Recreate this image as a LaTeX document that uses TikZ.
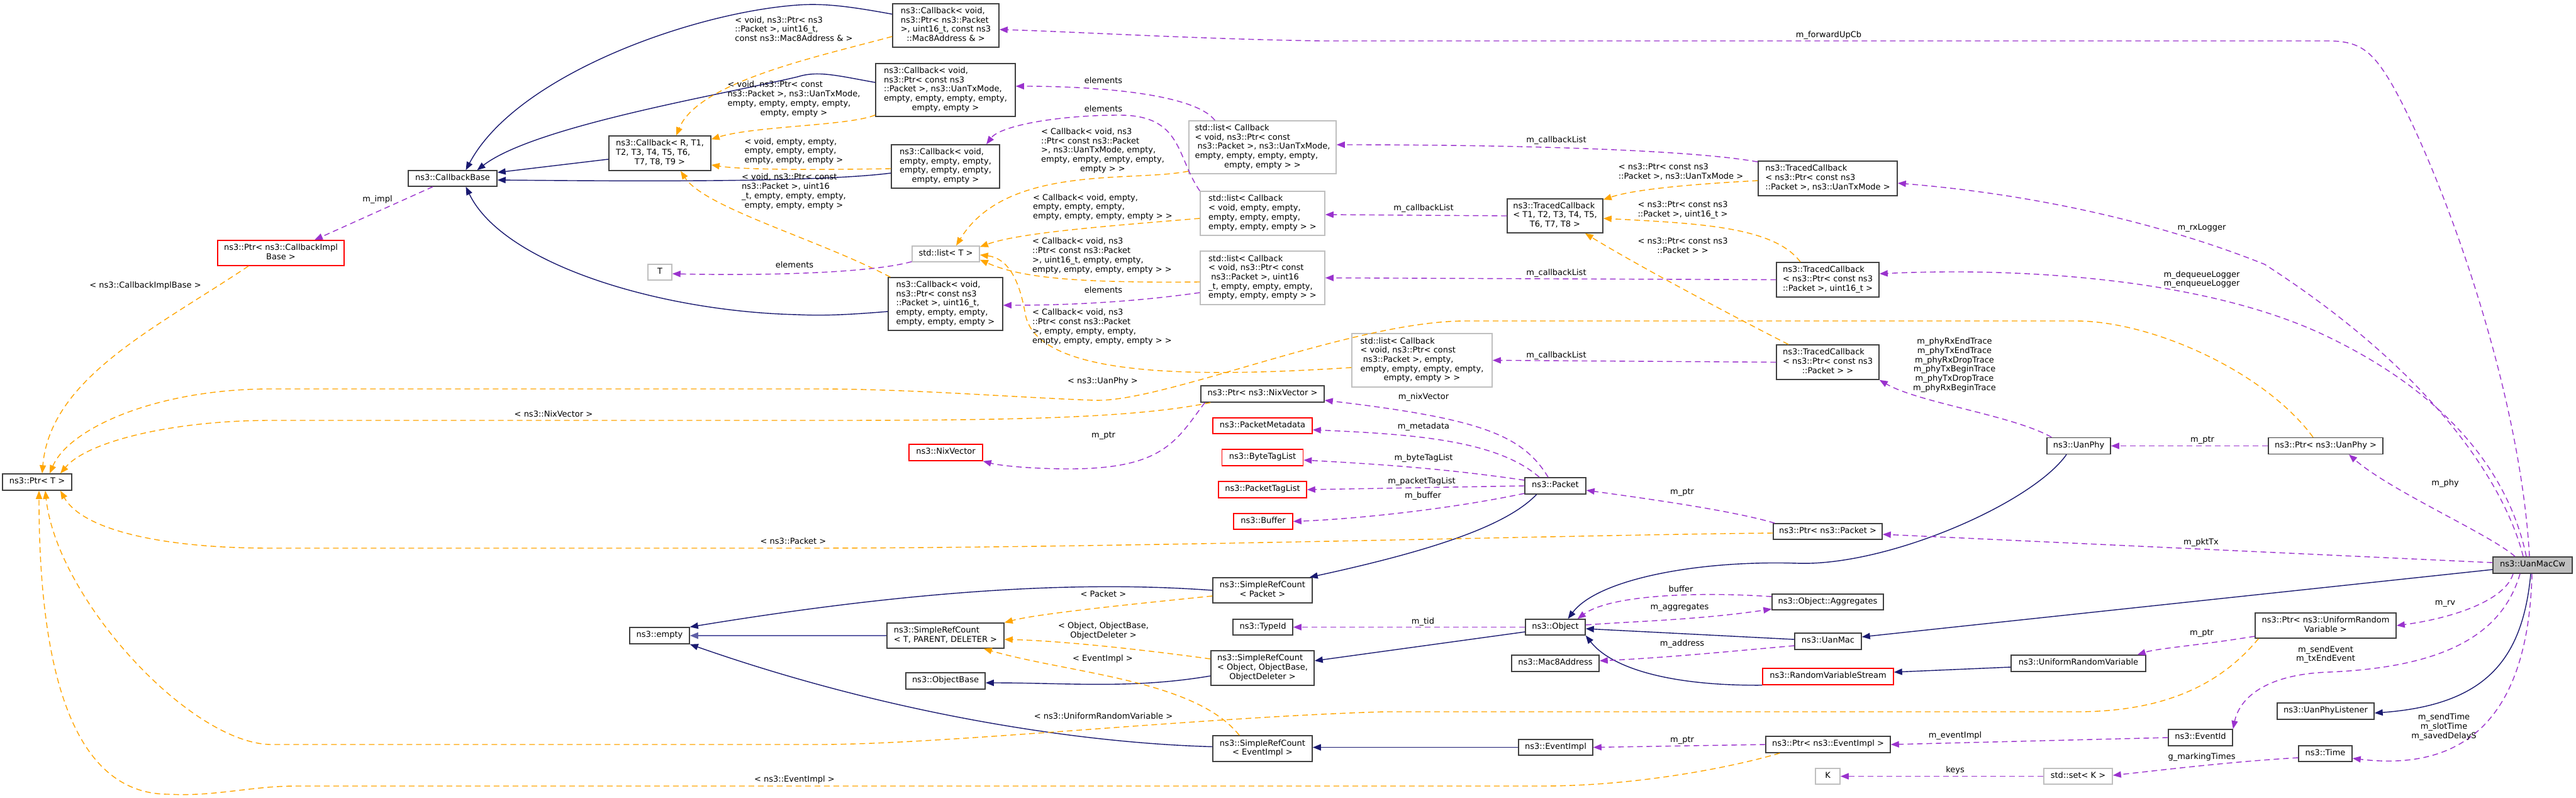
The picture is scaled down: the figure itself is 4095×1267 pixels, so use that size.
\documentclass[tikz,border=0pt]{standalone}
\usepackage{fontspec}
\setmainfont{DejaVu Sans}
\usetikzlibrary{arrows.meta}
\definecolor{navyc}{HTML}{191970}
\definecolor{navyl}{HTML}{5F5FA6}
\definecolor{orangec}{HTML}{FFA500}
\definecolor{purplec}{HTML}{9A32CD}
\definecolor{grayb}{HTML}{BFBFBF}
\definecolor{boxb}{HTML}{404040}
\newcommand\dxfont{\fontsize{13pt}{14.7pt}\selectfont\setbox\strutbox\hbox{\vrule height 10.3pt depth 4.4pt width 0pt}}
\newcommand\dxl[2]{\begin{tabular}{@{}l@{}}#1\\\multicolumn{1}{@{}c@{}}{#2}\end{tabular}}
\tikzset{
  sz/.style 2 args={minimum width=#1pt,minimum height=#2pt},
  box/.style={draw=boxb,line width=1.5pt,fill=white,inner sep=0pt,font=\dxfont,execute at begin node={\strut}},
  gbox/.style={box,draw=grayb},
  rbox/.style={box,draw=red},
  lbl/.style={inner sep=0pt,font=\dxfont,execute at begin node={\strut}},
  clbl/.style={inner sep=0pt,font=\dxfont,align=center},
  inh/.style={draw=navyc,line width=1.4pt,-{Triangle[length=13pt,width=10pt]},fill=none},
  tmpl/.style={draw=orangec,line width=1.4pt,dash pattern=on 9pt off 6pt,-{Triangle[length=13pt,width=10pt]}},
  use/.style={draw=purplec,line width=1.4pt,dash pattern=on 9pt off 6pt,-{Triangle[length=13pt,width=10pt]}},
}
\begin{document}
\begin{tikzpicture}[x=1pt,y=-1pt]
\fill[white] (0,0) rectangle (4095,1267);
\useasboundingbox (0,0) rectangle (4095,1267);

% ---------- nodes ----------
\node[box,sz={169}{69}] (cbmac) at (1503.5,40.5) {\dxl{ns3::Callback< void,\\ns3::Ptr< ns3::Packet\\>, uint16\_t, const ns3}{::Mac8Address \& >}};
\node[box,sz={222}{84}] (cbtx) at (1503,143) {\dxl{ns3::Callback< void,\\ns3::Ptr< const ns3\\::Packet >, ns3::UanTxMode,\\empty, empty, empty, empty,}{empty, empty >}};
\node[box,sz={162}{55}] (cbR) at (1049,243.5) {\dxl{ns3::Callback< R, T1,\\T2, T3, T4, T5, T6,}{T7, T8, T9 >}};
\node[box,sz={141}{25}] (cbbase) at (719.5,283.5) {ns3::CallbackBase};
\node[box,sz={172}{69}] (cbempty) at (1503,264.5) {\dxl{ns3::Callback< void,\\empty, empty, empty,\\empty, empty, empty,}{empty, empty >}};
\node[rbox,sz={201}{40}] (ptrcbimpl) at (446.5,402) {\dxl{ns3::Ptr< ns3::CallbackImpl}{Base >}};
\node[gbox,sz={38}{25}] (Tn) at (1049,432.5) {T};
\node[gbox,sz={234}{84}] (listtx) at (2007,234) {\dxl{std::list< Callback\\< void, ns3::Ptr< const\\\ ns3::Packet >, ns3::UanTxMode,\\empty, empty, empty, empty,}{empty, empty > >}};
\node[gbox,sz={198}{70}] (listempty) at (2007,339) {\dxl{std::list< Callback\\< void, empty, empty,\\empty, empty, empty,}{empty, empty, empty > >}};
\node[gbox,sz={107}{25}] (listT) at (1503.5,403.5) {std::list< T >};
\node[box,sz={152}{54}] (tcT) at (2472,343) {\dxl{ns3::TracedCallback\\< T1, T2, T3, T4, T5,}{T6, T7, T8 >}};
\node[gbox,sz={198}{85}] (list16) at (2007,441.5) {\dxl{std::list< Callback\\< void, ns3::Ptr< const\\\ ns3::Packet >, uint16\\\_t, empty, empty, empty,}{empty, empty, empty > >}};
\node[box,sz={221}{55}] (tctx) at (2905.5,283.5) {\dxl{ns3::TracedCallback\\< ns3::Ptr< const ns3}{::Packet >, ns3::UanTxMode >}};
\node[box,sz={163}{55}] (tc16) at (2905.5,444.5) {\dxl{ns3::TracedCallback\\< ns3::Ptr< const ns3}{::Packet >, uint16\_t >}};
\node[box,sz={163}{55}] (tcpk) at (2905.5,575.5) {\dxl{ns3::TracedCallback\\< ns3::Ptr< const ns3}{::Packet > >}};
\node[box,sz={101}{26}] (uanphy) at (3304.5,708.5) {ns3::UanPhy};
\node[box,sz={182}{26}] (ptruanphy) at (3697,708.5) {ns3::Ptr< ns3::UanPhy >};
\node[box,sz={173}{25}] (ptrpacket) at (2905.5,844.5) {ns3::Ptr< ns3::Packet >};
\node[box,sz={110}{26}] (ptrT) at (59,766) {ns3::Ptr< T >};
\node[box,sz={182}{84}] (cb16) at (1503,483) {\dxl{ns3::Callback< void,\\ns3::Ptr< const ns3\\::Packet >, uint16\_t,\\empty, empty, empty,}{empty, empty, empty >}};
\node[gbox,sz={223}{85}] (listpk) at (2260.5,572.5) {\dxl{std::list< Callback\\< void, ns3::Ptr< const\\\ ns3::Packet >, empty,\\empty, empty, empty, empty,}{empty, empty > >}};
\node[box,sz={196}{26}] (ptrnix) at (2007,626) {ns3::Ptr< ns3::NixVector >};
\node[rbox,sz={158}{25}] (pmeta) at (2007,676.5) {ns3::PacketMetadata};
\node[rbox,sz={117}{26}] (nix) at (1503.5,719) {ns3::NixVector};
\node[rbox,sz={129}{26}] (btl) at (2007,727) {ns3::ByteTagList};
\node[rbox,sz={140}{26}] (ptl) at (2007,778) {ns3::PacketTagList};
\node[rbox,sz={94}{25}] (buffer) at (2008,828.5) {ns3::Buffer};
\node[box,sz={97}{26}] (packet) at (2472.5,772) {ns3::Packet};
\node[box,sz={95}{26}] (empty) at (1048.5,1010) {ns3::empty};
\node[box,sz={158}{40}] (srcpk) at (2007,938) {\dxl{ns3::SimpleRefCount}{< Packet >}};
\node[box,sz={186}{40}] (srcT) at (1503,1010) {\dxl{ns3::SimpleRefCount}{< T, PARENT, DELETER >}};
\node[box,sz={95}{25}] (typeid) at (2007.5,996.5) {ns3::TypeId};
\node[box,sz={95}{25}] (object) at (2472.5,996.5) {ns3::Object};
\node[box,sz={164}{55}] (srcobj) at (2007,1061.5) {\dxl{ns3::SimpleRefCount\\< Object, ObjectBase,}{ObjectDeleter >}};
\node[box,sz={126}{26}] (objbase) at (1503,1082) {ns3::ObjectBase};
\node[box,sz={139}{26}] (mac8) at (2472.5,1054) {ns3::Mac8Address};
\node[box,sz={158}{41}] (srcev) at (2007,1189.5) {\dxl{ns3::SimpleRefCount}{< EventImpl >}};
\node[box,sz={118}{25}] (eventimpl) at (2473,1187.5) {ns3::EventImpl};
\node[box,fill=grayb,sz={126}{26}] (uanmaccw) at (4026,898) {ns3::UanMacCw};
\node[box,sz={177}{25}] (aggr) at (2905.5,956.5) {ns3::Object::Aggregates};
\node[box,sz={106}{26}] (uanmac) at (2906,1019) {ns3::UanMac};
\node[box,sz={224}{40}] (ptrurv) at (3697,994) {\dxl{ns3::Ptr< ns3::UniformRandom}{Variable >}};
\node[box,sz={214}{26}] (urv) at (3304,1054) {ns3::UniformRandomVariable};
\node[rbox,sz={208}{26}] (rvs) at (2906,1075) {ns3::RandomVariableStream};
\node[box,sz={154}{26}] (uanphylistener) at (3697,1130) {ns3::UanPhyListener};
\node[box,sz={102}{26}] (eventid) at (3498,1172) {ns3::EventId};
\node[box,sz={198}{26}] (ptrevent) at (2906,1183) {ns3::Ptr< ns3::EventImpl >};
\node[box,sz={85}{25}] (time) at (3696.5,1197.5) {ns3::Time};
\node[gbox,sz={109}{25}] (setK) at (3303.5,1233.5) {std::set< K >};
\node[gbox,sz={39}{25}] (Kn) at (2905.5,1233.5) {K};

% ---------- inheritance ----------
\draw[inh] ([yshift=18pt]cbmac.west) .. controls (1350,10) and (1310,5) .. (1268,8) .. controls (1100,20) and (820,120) .. ([xshift=21pt]cbbase.north);
\draw[inh] ([yshift=12pt]cbtx.west) .. controls (1330,120) and (1300,112) .. (1268,122) .. controls (1150,150) and (850,200) .. ([xshift=39pt]cbbase.north);
\draw[inh] ([yshift=-9.5pt]cbR.west) -- ([yshift=9.5pt]cbbase.east);
\draw[inh] ([yshift=-10.5pt]cbempty.west) .. controls (1300,290) and (1000,288) .. ([yshift=-2.5pt]cbbase.east);
\draw[inh] ([yshift=-12pt]cb16.west) .. controls (1350,500) and (1310,502) .. (1268,500) .. controls (1050,495) and (800,420) .. ([xshift=21pt]cbbase.south);
\draw[inh] (srcpk.west) .. controls (1750,925) and (1500,930) .. (empty.north east);
\draw[inh,draw=navyl,line width=2pt] (srcT.west) -- (empty.east);
\draw[inh] ([yshift=3pt]srcev.west) .. controls (1700,1180) and (1400,1130) .. (empty.south east);
\draw[inh] ([xshift=-30pt]packet.south) .. controls (2400,830) and (2300,870) .. ([xshift=-5pt]srcpk.north east);
\draw[inh] ([yshift=-12.5pt]srcobj.west) .. controls (1800,1095) and (1700,1085) .. ([yshift=-3pt]objbase.east);
\draw[inh] ([yshift=-7.5pt]object.west) -- ([yshift=11.5pt]srcobj.east);
\draw[inh] (eventimpl.west) -- ([yshift=2pt]srcev.east);
\draw[inh] ([xshift=-19.5pt]uanphy.south) .. controls (3230,800) and (3000,900) .. (2857,895) .. controls (2700,890) and (2540,920) .. ([xshift=20pt]object.north);
\draw[inh] ([yshift=3pt]uanmac.west) -- ([yshift=-2.5pt]object.east);
\draw[inh] (rvs.south west) .. controls (2650,1090) and (2560,1060) .. (object.south east);
\draw[inh] ([yshift=-6pt]urv.west) -- ([yshift=7pt]rvs.east);
\draw[inh] ([yshift=-7pt]uanmaccw.west) -- ([yshift=7pt]uanmac.east);
\draw[inh] ([xshift=-3pt]uanmaccw.south) .. controls (4010,1050) and (3950,1120) .. ([yshift=-3pt]uanphylistener.east);

% ---------- template instances ----------
\draw[tmpl] ([yshift=-17.5pt]cbmac.west) .. controls (1300,90) and (1110,130) .. ([xshift=26pt]cbR.north);
\draw[tmpl] ([yshift=3pt]cbtx.south west) .. controls (1350,200) and (1200,200) .. ([yshift=-6pt]cbR.north east);
\draw[tmpl] ([yshift=-3.5pt]cbempty.west) .. controls (1300,270) and (1180,270) .. ([yshift=-18.5pt]cbR.east);
\draw[tmpl] ([xshift=4pt]cb16.north west) .. controls (1300,380) and (1120,330) .. ([xshift=33pt]cbR.south);
\draw[tmpl] ([yshift=-38pt]listtx.west) .. controls (1800,290) and (1600,260) .. ([xshift=16.5pt]listT.north);
\draw[tmpl] ([yshift=-8pt]listempty.west) .. controls (1750,360) and (1620,370) .. ([yshift=-2pt]listT.north east);
\draw[tmpl] ([yshift=-6.5pt]list16.west) .. controls (1700,450) and (1620,440) .. ([yshift=4pt]listT.south east);
\draw[tmpl] ([yshift=-11.5pt]listpk.west) .. controls (1900,600) and (1650,600) .. (1630,500) .. controls (1620,440) and (1600,410) .. ([yshift=-1.5pt]listT.east);
\draw[tmpl] ([yshift=-3.5pt]tctx.west) .. controls (2700,292) and (2600,300) .. ([yshift=-2pt]tcT.north east);
\draw[tmpl] ([xshift=-43.5pt]tc16.north) .. controls (2820,360) and (2700,355) .. ([yshift=-4pt]tcT.east);
\draw[tmpl] ([xshift=-62.5pt]tcpk.north) .. controls (2750,500) and (2600,420) .. ([xshift=-29pt]tcT.south east);
\draw[tmpl] ([xshift=-51.5pt]ptrcbimpl.south) .. controls (250,520) and (80,600) .. ([xshift=8pt]ptrT.north);
\draw[tmpl] ([xshift=-20pt]ptruanphy.north) .. controls (3600,590) and (3420,510) .. (3300,510) -- (2330,510) .. controls (2150,510) and (1850,640) .. (1740,636) .. controls (1620,632) and (1450,618) .. (1300,618) -- (430,618) .. controls (250,618) and (110,680) .. ([xshift=20pt]ptrT.north);
\draw[tmpl] ([xshift=16pt]ptrnix.south west) .. controls (1800,665) and (1600,668) .. (1300,668) -- (430,668) .. controls (280,668) and (140,700) .. ([xshift=37pt]ptrT.north);
\draw[tmpl] ([yshift=-2.5pt]ptrpacket.west) .. controls (2500,850) and (1800,870) .. (1300,871) -- (430,871) .. controls (250,871) and (130,840) .. ([xshift=37pt]ptrT.south);
\draw[tmpl] ([xshift=6pt]ptrurv.south west) .. controls (3520,1100) and (3420,1131) .. (3300,1131) -- (2200,1131) .. controls (1900,1140) and (1500,1183) .. (1300,1183) -- (430,1183) .. controls (300,1180) and (90,950) .. ([xshift=13pt]ptrT.south);
\draw[tmpl] ([xshift=23pt]ptrevent.south west) .. controls (2750,1220) and (2600,1249) .. (2450,1249) -- (470,1249) .. controls (400,1249) and (340,1266) .. (268,1262) .. controls (130,1262) and (62,1100) .. ([xshift=3pt]ptrT.south);
\draw[tmpl] ([yshift=-9pt]srcpk.west) .. controls (1800,960) and (1650,975) .. (srcT.north east);
\draw[tmpl] ([yshift=14.5pt]srcobj.west) .. controls (1800,1030) and (1680,1018) .. ([yshift=-6pt]srcT.east);
\draw[tmpl] ([xshift=-37pt]srcev.north) .. controls (1900,1080) and (1700,1070) .. ([xshift=-33pt]srcT.south east);

% ---------- usage ----------
\draw[use] ([xshift=-31.5pt]cbbase.south) -- ([xshift=53.5pt]ptrcbimpl.north);
\draw[use] ([xshift=42pt]listtx.north west) .. controls (1900,150) and (1750,137) .. ([yshift=6pt]cbtx.east);
\draw[use] (listempty.north west) .. controls (1870,250) and (1880,183) .. (1780,183) .. controls (1680,183) and (1590,200) .. ([xshift=65pt]cbempty.north);
\draw[use] ([yshift=-23.5pt]list16.west) .. controls (1800,480) and (1700,485) .. ([yshift=-2pt]cb16.east);
\draw[use] ([yshift=1pt]listT.south west) .. controls (1380,435) and (1200,438) .. ([yshift=-2.5pt]Tn.east);
\draw[use] (tcT.west) -- ([yshift=-2pt]listempty.east);
\draw[use] ([yshift=-2pt]tctx.north west) .. controls (2700,240) and (2450,230) .. ([yshift=4pt]listtx.east);
\draw[use] (tc16.west) -- (list16.east);
\draw[use] (tcpk.west) -- (listpk.east);
\draw[use] ([xshift=8pt]uanphy.north west) .. controls (3200,660) and (3050,640) .. (tcpk.south east);
\draw[use] (ptruanphy.west) -- (uanphy.east);
\draw[use] ([xshift=7pt]ptrnix.south west) .. controls (1870,700) and (1850,745) .. (1700,745) .. controls (1640,745) and (1590,740) .. (nix.south east);
\draw[use] ([xshift=-11.5pt]packet.north) .. controls (2420,690) and (2350,665) .. ([yshift=-10pt]ptrnix.east);
\draw[use] ([xshift=-25.5pt]packet.north) .. controls (2380,700) and (2250,690) .. ([yshift=-6.5pt]pmeta.east);
\draw[use] ([yshift=9pt]packet.west) .. controls (2300,745) and (2200,738) .. ([yshift=-4pt]btl.east);
\draw[use] (packet.west) -- (ptl.east);
\draw[use] ([yshift=-12pt]packet.west) .. controls (2300,810) and (2150,825) .. (buffer.east);
\draw[use] ([xshift=3pt]ptrpacket.north west) .. controls (2750,810) and (2600,790) .. ([yshift=-7pt]packet.east);
\draw[use] ([yshift=4pt]uanmaccw.west) -- ([yshift=-4.5pt]ptrpacket.east);
\draw[use] ([xshift=-15pt]uanmaccw.north) .. controls (3985,780) and (3880,600) .. (3600,420) .. controls (3450,360) and (3250,310) .. ([yshift=-7.5pt]tctx.east);
\draw[use] ([xshift=-10pt]uanmaccw.north) .. controls (3990,760) and (3900,630) .. (3696,533) .. controls (3500,440) and (3200,425) .. ([yshift=9.5pt]tc16.east);
\draw[use] ([xshift=-5pt]uanmaccw.north) .. controls (4005,600) and (3870,250) .. (3800,130) .. controls (3770,80) and (3750,65) .. (3700,65) -- (2100,65) .. controls (1900,62) and (1700,50) .. ([yshift=-6.5pt]cbmac.east);
\draw[use] ([xshift=-28pt]uanmaccw.north) .. controls (3960,850) and (3800,780) .. ([xshift=37pt]ptruanphy.south);
\draw[use] (object.west) -- (typeid.east);
\draw[use] ([yshift=8.5pt]aggr.west) .. controls (2700,940) and (2560,945) .. ([xshift=-13pt]object.north east);
\draw[use] ([yshift=3.5pt]object.east) .. controls (2600,987) and (2700,985) .. ([yshift=2pt]aggr.south west);
\draw[use] ([yshift=-7pt]uanmac.west) .. controls (2750,1035) and (2650,1045) .. ([yshift=4pt]mac8.east);
\draw[use] ([xshift=-31pt]uanmaccw.south) .. controls (3980,960) and (3880,985) .. (ptrurv.east);
\draw[use] ([yshift=-17pt]ptrurv.west) .. controls (3500,1025) and (3430,1030) .. ([xshift=-14pt]urv.north east);
\draw[use] ([xshift=-20pt]uanmaccw.south) .. controls (3980,1000) and (3900,1060) .. (3700,1068) .. controls (3600,1072) and (3560,1110) .. (eventid.north east);
\draw[use] (eventid.west) -- (ptrevent.east);
\draw[use] (ptrevent.west) -- (eventimpl.east);
\draw[use] ([xshift=-1pt]uanmaccw.south) .. controls (4020,1100) and (3950,1230) .. ([yshift=-7.5pt]time.east);
\draw[use] ([yshift=-6.5pt]time.west) .. controls (3550,1210) and (3450,1222) .. ([yshift=1.5pt]setK.east);
\draw[use] (setK.west) -- (Kn.east);

% ---------- edge labels ----------
\node[lbl] (l1) at (1262,48) {\dxl{< void, ns3::Ptr< ns3\\::Packet >, uint16\_t,}{const ns3::Mac8Address \& >}};
\node[lbl] (l2) at (1262,158) {\dxl{< void, ns3::Ptr< const\\ns3::Packet >, ns3::UanTxMode,\\empty, empty, empty, empty,}{empty, empty >}};
\node[lbl] (l3) at (1262,241) {\dxl{< void, empty, empty,\\empty, empty, empty,}{empty, empty, empty >}};
\node[lbl] (l4) at (1262,305) {\dxl{< void, ns3::Ptr< const\\ns3::Packet >, uint16\\\_t, empty, empty, empty,}{empty, empty, empty >}};
\node[lbl] (l5) at (1753,240) {\dxl{< Callback< void, ns3\\::Ptr< const ns3::Packet\\>, ns3::UanTxMode, empty,\\empty, empty, empty, empty,}{empty > >}};
\node[lbl] (l6) at (1753,330) {\dxl{< Callback< void, empty,\\empty, empty, empty,}{empty, empty, empty, empty > >}};
\node[lbl] (l7) at (1752,407) {\dxl{< Callback< void, ns3\\::Ptr< const ns3::Packet\\>, uint16\_t, empty, empty,}{empty, empty, empty, empty > >}};
\node[lbl] (l8) at (1752,520) {\dxl{< Callback< void, ns3\\::Ptr< const ns3::Packet\\>, empty, empty, empty,}{empty, empty, empty, empty > >}};
\node[lbl] (l9) at (2672,274) {\dxl{< ns3::Ptr< const ns3}{::Packet >, ns3::UanTxMode >}};
\node[lbl] (l10) at (2675,334) {\dxl{< ns3::Ptr< const ns3}{::Packet >, uint16\_t >}};
\node[lbl] (l11) at (2675,392) {\dxl{< ns3::Ptr< const ns3}{::Packet > >}};
\node[lbl] (l12) at (231,455) {< ns3::CallbackImplBase >};
\node[lbl] (l13) at (1753,607) {< ns3::UanPhy >};
\node[lbl] (l14) at (880,660) {< ns3::NixVector >};
\node[lbl] (l15) at (1261,862) {< ns3::Packet >};
\node[lbl] (l16) at (1754,1140) {< ns3::UniformRandomVariable >};
\node[lbl] (l17) at (1263,1240) {< ns3::EventImpl >};
\node[lbl] (l18) at (1754,946) {< Packet >};
\node[lbl] (l19) at (1754,1003) {\dxl{< Object, ObjectBase,}{ObjectDeleter >}};
\node[lbl] (l20) at (1753,1048) {< EventImpl >};

\node[lbl] (m1) at (600,318) {m\_impl};
\node[lbl] (m2) at (1754,130) {elements};
\node[lbl] (m3) at (1754,175) {elements};
\node[lbl] (m4) at (1754,463) {elements};
\node[lbl] (m5) at (1263,423) {elements};
\node[lbl] (m6) at (2263,332) {m\_callbackList};
\node[lbl] (m7) at (2474,224) {m\_callbackList};
\node[lbl] (m8) at (2474,435) {m\_callbackList};
\node[lbl] (m9) at (2474,566) {m\_callbackList};
\node[clbl] (m10) at (3107,580) {m\_phyRxEndTrace\\m\_phyTxEndTrace\\m\_phyRxDropTrace\\m\_phyTxBeginTrace\\m\_phyTxDropTrace\\m\_phyRxBeginTrace};
\node[lbl] (m11) at (3501,700) {m\_ptr};
\node[lbl] (m12) at (1754,693) {m\_ptr};
\node[lbl] (m13) at (2263,632) {m\_nixVector};
\node[lbl] (m14) at (2263,679) {m\_metadata};
\node[lbl] (m15) at (2263,729) {m\_byteTagList};
\node[lbl] (m16) at (2260,766) {m\_packetTagList};
\node[lbl] (m17) at (2262,789) {m\_buffer};
\node[lbl] (m18) at (2674,783) {m\_ptr};
\node[lbl] (m19) at (3499,863) {m\_pktTx};
\node[lbl] (m20) at (3500,363) {m\_rxLogger};
\node[clbl] (m21) at (3500,444) {m\_dequeueLogger\\m\_enqueueLogger};
\node[lbl] (m22) at (2907,57) {m\_forwardUpCb};
\node[lbl] (m23) at (3887,769) {m\_phy};
\node[lbl] (m24) at (2262,989) {m\_tid};
\node[lbl] (m25) at (2672,938) {buffer};
\node[lbl] (m26) at (2670,966) {m\_aggregates};
\node[lbl] (m27) at (2674,1024) {m\_address};
\node[lbl] (m28) at (3887,959) {m\_rv};
\node[lbl] (m29) at (3500,1007) {m\_ptr};
\node[clbl] (m30) at (3697,1040) {m\_sendEvent\\m\_txEndEvent};
\node[lbl] (m31) at (3108,1170) {m\_eventImpl};
\node[lbl] (m32) at (2674,1177) {m\_ptr};
\node[clbl] (m33) at (3885,1155) {m\_sendTime\\m\_slotTime\\m\_savedDelayS};
\node[lbl] (m34) at (3500,1204) {g\_markingTimes};
\node[lbl] (m35) at (3108,1225) {keys};
\end{tikzpicture}
\end{document}
